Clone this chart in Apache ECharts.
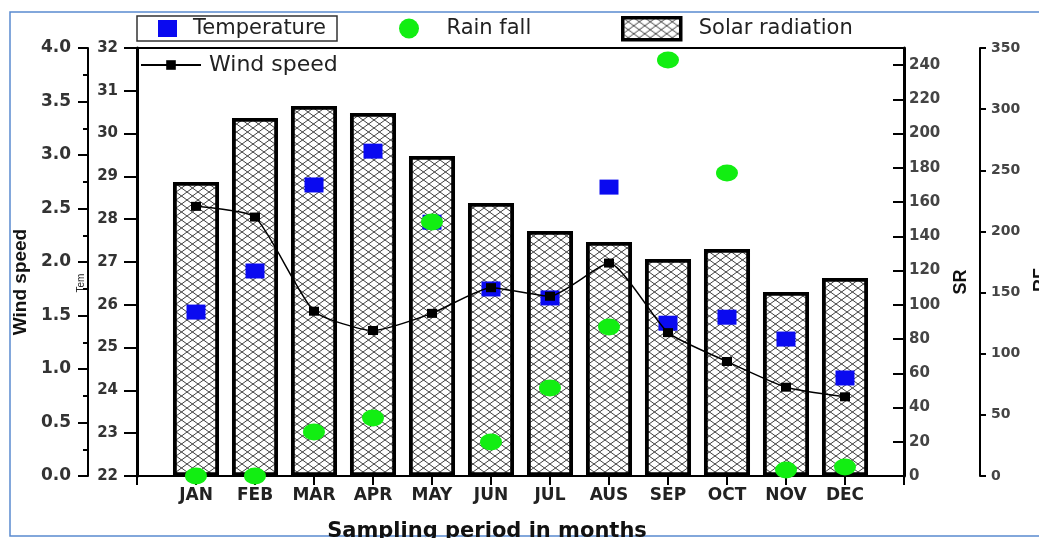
<!DOCTYPE html>
<html><head><meta charset="utf-8">
<script src="https://cdn.jsdelivr.net/npm/echarts@6/dist/echarts.min.js"></script>
<style>html,body{margin:0;padding:0;background:#fff;overflow:hidden}#c{width:1039px;height:538px}</style>
</head><body><div id="c"></div>
<script>
// ---- data ----
const months = ['JAN','FEB','MAR','APR','MAY','JUN','JUL','AUS','SEP','OCT','NOV','DEC'];
const solarRadiation = [171.7, 209.1, 216.1, 212.0, 186.9, 159.5, 143.1, 136.7, 126.8, 132.6, 107.5, 115.7];
const temperature    = [25.83, 26.79, 28.80, 29.59, 27.93, 26.37, 26.16, 28.75, 25.57, 25.71, 25.20, 24.29];
const rainFall       = [0, 0, 36.0, 47.4, 207.7, 27.8, 72.0, 121.8, 340.2, 247.8, 4.9, 7.4];
const windSpeed      = [2.52, 2.42, 1.54, 1.36, 1.52, 1.76, 1.68, 1.99, 1.34, 1.07, 0.83, 0.74];
const windRange = [0, 4, 0.5];
const tempRange = [22, 32, 1];
const srRange   = [0, 250, 20];
const rfRange   = [0, 350, 50];

// half-band padding on both sides of the month axis
const cats = [''].concat(months, ['']);
const pad = a => [null].concat(a, [null]);

function hatch() {
  const W = 11, H = 8;
  const c = document.createElement('canvas');
  c.width = W; c.height = H;
  const g = c.getContext('2d');
  g.fillStyle = '#fff'; g.fillRect(0, 0, W, H);
  g.strokeStyle = '#2a2a2a'; g.lineWidth = 0.9;
  for (let k = -1; k <= 1; k++) {
    g.beginPath(); g.moveTo(k * W, 0); g.lineTo(k * W + W, H); g.stroke();
    g.beginPath(); g.moveTo(k * W + W, 0); g.lineTo(k * W, H); g.stroke();
  }
  return c;
}
const hatchFill = { image: hatch(), repeat: 'repeat' };
const ellipse = 'path://M0,50A50,50,0,1,1,100,50A50,50,0,1,1,0,50Z';

const numFont = { fontFamily: 'DejaVu Sans', fontWeight: 'bold', fontSize: 15, color: '#333' };
const nameFont = { fontFamily: 'Liberation Sans', fontWeight: 'bold', fontSize: 19, color: '#111' };
const legText = { fontFamily: 'DejaVu Sans', fontSize: 20, color: '#222' };

const chart = echarts.init(document.getElementById('c'));
chart.setOption({
  animation: false,
  backgroundColor: '#fff',
  grid: { left: 137, right: 135, top: 48, bottom: 62, show: true, borderColor: '#000', borderWidth: 2,
          containLabel: false, outerBoundsMode: 'none' },
  legend: [
    { data: ['Temperature'], left: 158, top: 18, padding: 0, selectedMode: false,
      itemWidth: 19, itemHeight: 17, textStyle: Object.assign({ padding: [0, 0, 0, 11] }, legText, { fontSize: 21 }) },
    { data: ['Rain fall'], left: 399, top: 18, padding: 0, selectedMode: false,
      itemWidth: 21, itemHeight: 20, textStyle: Object.assign({ padding: [0, 0, 0, 22] }, legText, { fontSize: 21 }) },
    { data: ['Solar radiation'], left: 621, top: 16, padding: 0, selectedMode: false, icon: 'rect',
      itemWidth: 58, itemHeight: 22, itemStyle: { borderWidth: 3.5, borderColor: '#000' },
      textStyle: Object.assign({ padding: [0, 0, 0, 13] }, legText, { fontSize: 21 }) },
    { data: ['Wind speed'], left: 140, top: 54, padding: 0, selectedMode: false,
      itemWidth: 60, itemHeight: 12, textStyle: Object.assign({ padding: [0, 0, 0, 3] }, legText, { fontSize: 22 }) }
  ],
  xAxis: {
    type: 'category', data: cats, boundaryGap: false,
    axisLine: { onZero: false, lineStyle: { color: '#000', width: 2 } },
    axisTick: { length: 9, lineStyle: { color: '#000', width: 2 } },
    axisLabel: { interval: 0, margin: 11, fontSize: 17, color: '#222', fontFamily: 'DejaVu Sans', fontWeight: 'bold' },
    splitLine: { show: false },
    name: 'Sampling period in months', nameLocation: 'middle', nameGap: 45,
    nameTextStyle: { fontFamily: 'DejaVu Sans', fontWeight: 'bold', fontSize: 21, color: '#111', verticalAlign: 'top', padding: [0, 67, 0, 0] }
  },
  yAxis: [
    { type: 'value', position: 'left', offset: 49, min: windRange[0], max: windRange[1], interval: windRange[2],
      axisLine: { show: true, onZero: false, lineStyle: { color: '#000', width: 2 } },
      axisTick: { show: true, length: 10, lineStyle: { color: '#000', width: 2 } },
      minorTick: { show: true, splitNumber: 2, length: 5, lineStyle: { color: '#000', width: 2 } },
      axisLabel: Object.assign({ margin: 17, formatter: v => v.toFixed(1) }, numFont, { fontSize: 17 }),
      splitLine: { show: false },
      name: 'Wind speed', nameLocation: 'middle', nameGap: 55,
      nameTextStyle: Object.assign({ padding: [0, 40, 0, 0] }, nameFont) },
    { type: 'value', position: 'left', offset: 0, min: tempRange[0], max: tempRange[1], interval: tempRange[2],
      axisLine: { show: true, onZero: false, lineStyle: { color: '#000', width: 3 } },
      axisTick: { show: true, length: 13, lineStyle: { color: '#000', width: 2 } },
      axisLabel: Object.assign({ margin: 19 }, numFont),
      splitLine: { show: false },
      name: 'Tem', nameLocation: 'middle', nameGap: 15,
      nameTextStyle: { fontFamily: 'Liberation Sans', fontSize: 10, color: '#222', padding: [0, 42, 0, 0] } },
    { type: 'value', position: 'right', offset: 0, min: srRange[0], max: srRange[1], interval: srRange[2],
      axisLine: { show: true, onZero: false, lineStyle: { color: '#000', width: 3 } },
      axisTick: { show: true, inside: true, length: 11, lineStyle: { color: '#000', width: 2 } },
      axisLabel: Object.assign({ margin: 5, showMaxLabel: false }, numFont, { color: '#444' }),
      splitLine: { show: false },
      name: 'SR', nameLocation: 'middle', nameGap: 48,
      nameTextStyle: Object.assign({ padding: [0, 40, 0, 0] }, nameFont, { fontSize: 18 }) },
    { type: 'value', position: 'right', offset: 76, min: rfRange[0], max: rfRange[1], interval: rfRange[2],
      axisLine: { show: true, onZero: false, lineStyle: { color: '#000', width: 2 } },
      axisTick: { show: true, length: 6, lineStyle: { color: '#000', width: 2 } },
      axisLabel: Object.assign({ margin: 11 }, numFont, { fontSize: 14, color: '#444' }),
      splitLine: { show: false },
      name: 'RF', nameLocation: 'middle', nameGap: 52,
      nameTextStyle: Object.assign({ padding: [0, 36, 0, 0] }, nameFont, { fontSize: 18 }) }
  ],
  series: [
    { name: 'Solar radiation', type: 'bar', yAxisIndex: 2, data: pad(solarRadiation), barWidth: '78%', z: 1,
      itemStyle: { color: hatchFill, borderColor: '#000', borderWidth: 3.8 } },
    { name: 'Temperature', type: 'scatter', yAxisIndex: 1, data: pad(temperature), z: 2,
      symbol: 'rect', symbolSize: [19, 15], itemStyle: { color: '#0a0af0', opacity: 1 } },
    { name: 'Rain fall', type: 'scatter', yAxisIndex: 3, data: pad(rainFall), z: 3,
      symbol: ellipse, symbolSize: [22, 17], itemStyle: { color: '#12ee12', opacity: 1 } },
    { name: 'Wind speed', type: 'line', yAxisIndex: 0, data: pad(windSpeed), z: 4, smooth: 0.18,
      symbol: 'rect', symbolSize: [10, 9], showAllSymbol: true,
      lineStyle: { color: '#000', width: 1.5 }, itemStyle: { color: '#000' } }
  ],
  graphic: [
    { type: 'rect', z: -1, silent: true, shape: { x: 10, y: 12, width: 1060, height: 524 },
      style: { fill: 'none', stroke: '#5a8ad0', lineWidth: 1.5 } },
    { type: 'rect', z: 10, silent: true, shape: { x: 137, y: 16, width: 200, height: 25 },
      style: { fill: 'none', stroke: '#333', lineWidth: 1.5 } }
  ]
});
</script></body></html>
